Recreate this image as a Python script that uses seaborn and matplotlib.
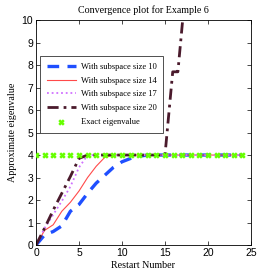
import numpy as np
import pandas as pd
import seaborn as sns
import matplotlib
matplotlib.use("Agg")
import matplotlib.pyplot as plt

# values
restart = list(range(0, 25))
size10 = [0, 0.45, 0.6, 0.85, 1.5, 1.8, 2.3, 2.75, 3.1, 3.45, 3.7, 3.85, 3.95, 4.0,
          4.0, 4.0, 4.0, 4.0, 4.0, 4.0, 4.0, 4.0, 4.0, 4.0, 4.0]
size14 = [0, 0.65, 0.9, 1.5, 1.9, 2.4, 3.0, 3.5, 3.9, 4.0, 4.0, 4.0, 4.0, 4.0,
          4.0, 4.0, 4.0, 4.0, 4.0, 4.0, 4.0, 4.0, 4.0, 4.0, 4.0]
size17 = [0, 0.75, 1.35, 1.95, 2.6, 3.45, 4.0, 4.0, 4.0, 4.0, 4.0, 4.0, 4.0, 4.0,
          4.0, 4.0, 4.0, 4.0, 4.0, 4.0, 4.0, 4.0, 4.0, 4.0, 4.0]
restart20 = [0, 1, 2, 3, 4, 5, 6, 7, 8, 9, 10, 11, 12, 13, 14, 15, 15.9, 16.5, 17.3]
size20 = [0, 0.75, 1.55, 2.3, 3.05, 3.85, 4.0, 4.0, 4.0, 4.0, 4.0, 4.0, 4.0, 4.0,
          4.0, 4.0, 7.7, 7.7, 11.0]
exact = [4.0] * 25

labels = ["With subspace size 10", "With subspace size 14",
          "With subspace size 17", "With subspace size 20", "Exact eigenvalue"]

serif = "Liberation Serif"
sans = "Liberation Sans"

fig = plt.figure(figsize=(2.77, 2.77), dpi=100)
ax = fig.add_axes([0.13, 0.1155, 0.776, 0.812])

sns.lineplot(x=restart, y=size10, ax=ax, color="#1f4fff", lw=2.4,
             linestyle=(0, (3.5, 2.5)), label=labels[0])
sns.lineplot(x=restart, y=size14, ax=ax, color="#ff4a4a", lw=0.8, label=labels[1])
sns.lineplot(x=restart, y=size17, ax=ax, color="#d070ff", lw=1.3,
             linestyle=(0, (1, 1.6)), label=labels[2])
sns.lineplot(x=restart20, y=size20, ax=ax, color="#4a1a2c", lw=2.0,
             linestyle=(0, (4, 1.8, 1, 1.8)), label=labels[3])
sns.scatterplot(x=restart, y=exact, ax=ax, marker="x", s=11, color="#66ff00",
                linewidths=1.8, label=labels[4], zorder=5)

ax.set_xlim(0, 25)
ax.set_ylim(0, 10)
ax.set_xticks(range(0, 26, 5))
ax.set_yticks(range(0, 11))
ax.tick_params(direction="in", top=True, right=True, length=3, width=0.5,
               labelsize=7.5, pad=2)
for lab in ax.get_xticklabels() + ax.get_yticklabels():
    lab.set_fontfamily(sans)
for sp in ax.spines.values():
    sp.set_linewidth(0.6)

ax.set_title("Convergence plot for Example 6", fontsize=7.2, family=serif, pad=5)
ax.set_xlabel("Restart Number", fontsize=7.2, family=serif, labelpad=2.5)
ax.set_ylabel("Approximate eigenvalue", fontsize=7.2, family=serif, labelpad=3)

leg = ax.legend(loc="upper left", bbox_to_anchor=(0.018, 0.84), borderaxespad=0,
                prop={"family": serif, "size": 6.1}, handlelength=3.5,
                frameon=True, fancybox=False, edgecolor="black",
                borderpad=0.8, labelspacing=0.68, handletextpad=0.5)
leg.get_frame().set_linewidth(0.6)

fig.savefig("out.png", dpi=100)
